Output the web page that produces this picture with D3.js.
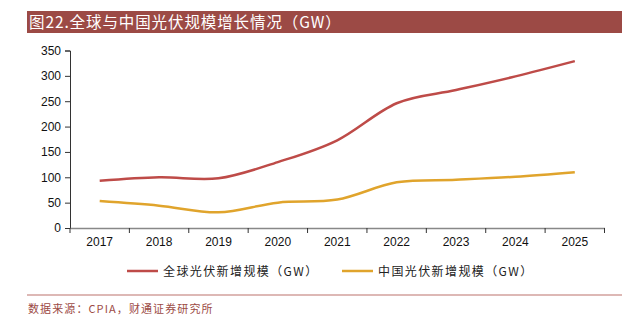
<!DOCTYPE html>
<html><head><meta charset="utf-8">
<script src="https://cdn.jsdelivr.net/npm/d3@7"></script>
<style>body{margin:0;background:#fff}svg{display:block}</style>
</head><body>
<script>
const title = "图22.全球与中国光伏规模增长情况（GW）";
const source = "数据来源：CPIA，财通证券研究所";
const years = ["2017","2018","2019","2020","2021","2022","2023","2024","2025"];
const globalNew = [93, 100, 98, 130, 173, 246, 272, 299, 329];
const chinaNew = [53, 44, 31, 50, 56, 90, 95, 101, 110];
const seriesNames = ["全球光伏新增规模（GW）", "中国光伏新增规模（GW）"];
const seriesColors = ["#BE4B48", "#E0A42C"];
const yTicks = [0, 50, 100, 150, 200, 250, 300, 350];

const W = 628, H = 325;
const svg = d3.select("body").append("svg").attr("width", W).attr("height", H);
const sans = "'Liberation Sans', Arial, sans-serif";
const cjk = "'Noto Sans CJK SC', sans-serif";

// title bar
svg.append("rect").attr("x", 27).attr("y", 11).attr("width", 595).attr("height", 22).attr("fill", "#9C4A45");
svg.append("text").attr("x", 29).attr("y", 28).attr("fill", "#fff")
  .style("font-family", cjk).style("font-size", "15.5px").style("letter-spacing", "0.9px").text(title);

const x = d3.scaleBand().domain(years).range([70, 604.5]);
const y = d3.scaleLinear().domain([0, 350]).range([228, 50.5]);

// y axis
const ya = svg.append("g").attr("transform", "translate(70,0)")
  .call(d3.axisLeft(y).tickValues(yTicks).tickSize(5).tickPadding(4));
ya.select(".domain").attr("stroke", "#333");
ya.selectAll(".tick line").attr("stroke", "#333");
ya.selectAll("text").style("font-family", sans).style("font-size", "12px").attr("fill", "#111");

// x axis
const xa = svg.append("g").attr("transform", "translate(0,228)")
  .call(d3.axisBottom(x).tickSize(0).tickPadding(9));
xa.select(".domain").attr("stroke", "#888").attr("stroke-width", 1.5);
xa.selectAll("text").style("font-family", sans).style("font-size", "12px").attr("fill", "#111");
// boundary ticks
const bounds = years.map(d => x(d)).concat([x(years[years.length-1]) + x.bandwidth()]);
svg.append("g").selectAll("line").data(bounds).join("line")
  .attr("x1", d => d).attr("x2", d => d).attr("y1", 228).attr("y2", 233)
  .attr("stroke", "#333").attr("stroke-width", 1);

const line = d3.line()
  .x((d, i) => x(years[i]) + x.bandwidth() / 2)
  .y(d => y(d))
  .curve(d3.curveCardinal.tension(0));

[globalNew, chinaNew].forEach((s, i) => {
  svg.append("path").attr("d", line(s)).attr("fill", "none")
    .attr("stroke", seriesColors[i]).attr("stroke-width", 2.5);
});

// legend
const leg = [{x1: 127, x2: 158, tx: 163}, {x1: 342, x2: 373, tx: 378}];
leg.forEach((l, i) => {
  svg.append("line").attr("x1", l.x1).attr("x2", l.x2).attr("y1", 271).attr("y2", 271)
    .attr("stroke", seriesColors[i]).attr("stroke-width", 2.5);
  svg.append("text").attr("x", l.tx).attr("y", 275.5).attr("fill", "#222")
    .style("font-family", cjk).style("font-size", "12px").style("letter-spacing", "1.4px").text(seriesNames[i]);
});

// source
svg.append("line").attr("x1", 27).attr("x2", 622).attr("y1", 295).attr("y2", 295)
  .attr("stroke", "#DDB8B5").attr("stroke-width", 2);
svg.append("text").attr("x", 28).attr("y", 313).attr("fill", "#9C4A45")
  .style("font-family", cjk).style("font-size", "11px").style("letter-spacing", "1.1px").text(source);
</script>
</body></html>
